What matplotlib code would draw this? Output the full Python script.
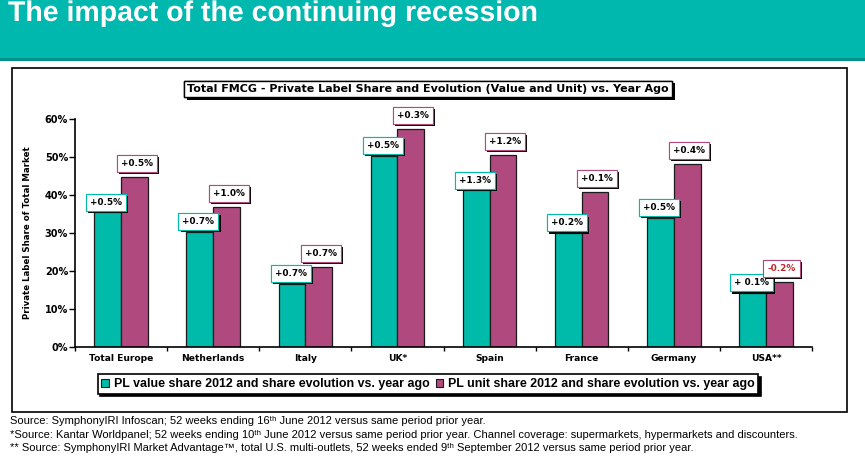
import numpy as np
import matplotlib.pyplot as plt
import matplotlib.patheffects as pe
from matplotlib.patches import Rectangle, Patch

# data
categories = ['Total Europe', 'Netherlands', 'Italy', 'UK*', 'Spain', 'France', 'Germany', 'USA**']
value_share = [35.5, 30.3, 16.6, 50.3, 41.3, 30.0, 34.0, 14.2]
unit_share = [44.7, 36.8, 21.1, 57.4, 50.5, 40.8, 48.2, 17.1]
value_evol = ['+0.5%', '+0.7%', '+0.7%', '+0.5%', '+1.3%', '+0.2%', '+0.5%', '+ 0.1%']
unit_evol = ['+0.5%', '+1.0%', '+0.7%', '+0.3%', '+1.2%', '+0.1%', '+0.4%', '-0.2%']
y_ticks = [0, 10, 20, 30, 40, 50, 60]
legend_labels = ['PL value share 2012 and share evolution vs. year ago',
                 'PL unit share 2012 and share evolution vs. year ago']

TEAL = '#00BBA9'
PURPLE = '#B0497E'
HEADER = '#00B8AE'
SANS = ['Liberation Sans', 'DejaVu Sans']

W, H = 865, 459
fig = plt.figure(figsize = (W / 100, H / 100), dpi = 100)

def fx(px):
    return px / W

def fy(py):
    return 1 - py / H

# header band
fig.patches.append(Rectangle((0, fy(58)), 1, 58 / H, transform = fig.transFigure,
                             fc = HEADER, ec = 'none', zorder = 0))
fig.patches.append(Rectangle((0, fy(61)), 1, 3 / H, transform = fig.transFigure,
                             fc = '#00928A', ec = 'none', zorder = 0))
fig.text(fx(8), fy(14), 'The impact of the continuing recession', color = 'white',
         fontsize = 20.5, fontweight = 'bold', family = SANS, va = 'center', ha = 'left',
         path_effects = [pe.SimpleLineShadow(offset = (1, -1)), pe.Normal()])

# chart frame
fig.patches.append(Rectangle((fx(12), fy(412)), fx(847) - fx(12), fy(68) - fy(412),
                             transform = fig.transFigure, fill = False, ec = 'black', lw = 1.2))

# title box
shadow = [pe.withSimplePatchShadow(offset = (2, -2), shadow_rgbFace = 'black', alpha = 1), pe.Normal()]
t = fig.text(fx(428), fy(89), 'Total FMCG - Private Label Share and Evolution (Value and Unit) vs. Year Ago',
             fontsize = 8, fontweight = 'bold', ha = 'center', va = 'center',
             bbox = dict(boxstyle = 'square,pad=0.3', fc = 'white', ec = 'black', lw = 1))
t.get_bbox_patch().set_path_effects(shadow)

# axes
ax = fig.add_axes([fx(75), fy(347), fx(812) - fx(75), fy(119) - fy(347)])
x = np.arange(len(categories))
bw = 0.29
ax.bar(x - bw / 2, value_share, bw, color = TEAL, edgecolor = '#1a1a1a', lw = 0.9)
ax.bar(x + bw / 2, unit_share, bw, color = PURPLE, edgecolor = '#1a1a1a', lw = 0.9)

lab_shadow = [pe.withSimplePatchShadow(offset = (1.5, -1.5), shadow_rgbFace = 'black', alpha = 1), pe.Normal()]
for i in range(len(categories)):
    a = ax.annotate(value_evol[i], (x[i] - bw / 2, value_share[i]), xytext = (-1, 4),
                    textcoords = 'offset points', ha = 'center', va = 'bottom',
                    fontsize = 6.4, fontweight = 'bold',
                    bbox = dict(boxstyle = 'square,pad=0.45', fc = 'white', ec = TEAL, lw = 0.8))
    a.get_bbox_patch().set_path_effects(lab_shadow)
    col = '#C0282E' if unit_evol[i].startswith('-') else 'black'
    b = ax.annotate(unit_evol[i], (x[i] + bw / 2, unit_share[i]), xytext = (1.5, 6.5),
                    textcoords = 'offset points', ha = 'center', va = 'bottom',
                    fontsize = 6.4, fontweight = 'bold', color = col,
                    bbox = dict(boxstyle = 'square,pad=0.45', fc = 'white', ec = PURPLE, lw = 0.8))
    b.get_bbox_patch().set_path_effects(lab_shadow)

ax.set_xlim(-0.5, len(categories) - 0.5)
ax.set_ylim(0, 60)
ax.set_yticks(y_ticks)
ax.set_yticklabels([f'{v}%' for v in y_ticks], fontsize = 7, fontweight = 'bold')
ax.set_xticks(x)
ax.set_xticklabels(categories, fontsize = 6.6, fontweight = 'bold')
ax.set_xticks(np.arange(-0.5, len(categories)), minor = True)
ax.tick_params(axis = 'x', which = 'major', length = 0, pad = 5)
ax.tick_params(axis = 'x', which = 'minor', length = 3, width = 1)
ax.tick_params(axis = 'y', length = 4, width = 1, pad = 1)
for s in ['top', 'right']:
    ax.spines[s].set_visible(False)
for s in ['left', 'bottom']:
    ax.spines[s].set_linewidth(1.2)
ax.set_ylabel('Private Label Share of Total Market', fontsize = 6.2, fontweight = 'bold')
ax.yaxis.set_label_coords(-(75 - 32) / 737, 0.5)

# legend
handles = [Patch(fc = TEAL, ec = '#1a1a1a', lw = 0.8), Patch(fc = PURPLE, ec = '#1a1a1a', lw = 0.8)]
leg = fig.legend(handles, legend_labels, loc = 'center', bbox_to_anchor = (fx(428), fy(384)), ncol = 2,
                 frameon = True, fancybox = False, edgecolor = 'black', framealpha = 1,
                 shadow = {'color': 'black', 'alpha': 1},
                 handlelength = 0.6, handleheight = 0.6, handletextpad = 0.4, columnspacing = 0.5,
                 borderpad = 0.3, borderaxespad = 0,
                 prop = dict(family = SANS, weight = 'bold', size = 8.9))
leg.get_frame().set_linewidth(1.2)

# footnotes (superscripts as modifier letters so lines don't collide)
notes = ['Source: SymphonyIRI Infoscan; 52 weeks ending 16\u1d57\u02b0 June 2012 versus same period prior year.',
         '*Source: Kantar Worldpanel; 52 weeks ending 10\u1d57\u02b0 June 2012 versus same period prior year. Channel coverage: supermarkets, hypermarkets and discounters.',
         '** Source: SymphonyIRI Market Advantage\u2122, total U.S. multi-outlets, 52 weeks ended 9\u1d57\u02b0 September 2012 versus same period prior year.']
for k, note in enumerate(notes):
    fig.text(fx(10), fy(421 + 13.5 * k), note, fontsize = 8, family = SANS, va = 'center', ha = 'left')

fig.savefig('out.png', dpi = 100)
